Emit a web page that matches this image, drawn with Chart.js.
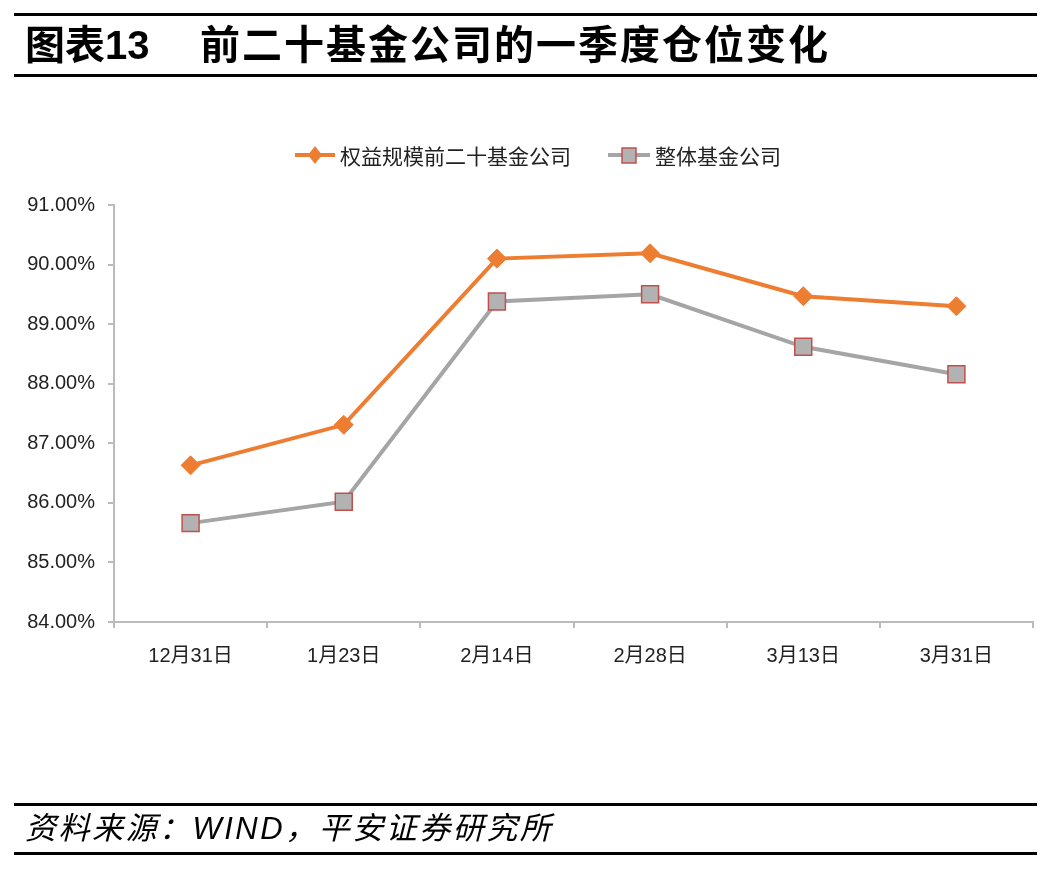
<!DOCTYPE html>
<html>
<head>
<meta charset="utf-8">
<script src="https://cdn.jsdelivr.net/npm/chart.js@4.4.1/dist/chart.umd.min.js"></script>
<style>
  html, body { margin: 0; padding: 0; background: #fff; }
  #wrap { position: relative; width: 1063px; height: 886px; overflow: hidden; background: #fff;
          font-family: "Liberation Sans", Arial, "Noto Sans CJK SC", sans-serif; }
  #c { position: absolute; left: 0; top: 0; }
  .rule { position: absolute; left: 14px; width: 1023px; height: 3px; background: #000; }
  .title { position: absolute; top: 21px; font-size: 40px; font-weight: bold; color: #000; white-space: nowrap; line-height: 48px; }
  .foot { position: absolute; left: 25px; top: 810px; font-size: 31px; font-style: italic; color: #000; letter-spacing: 2.5px; white-space: nowrap; line-height: 38px; }
  .leg { position: absolute; top: 141px; height: 28px; display: flex; align-items: center; font-size: 21px; color: #222; white-space: nowrap; }
  .leg svg { margin-right: 5px; }
</style>
</head>
<body>
<div id="wrap">
  <canvas id="c" width="1063" height="886"></canvas>
  <div class="rule" style="top:13px"></div>
  <div class="title" style="left:25px">图表13</div>
  <div class="title" style="left:200px; letter-spacing:2px">前二十基金公司的一季度仓位变化</div>
  <div class="rule" style="top:74px"></div>
  <div class="leg" id="leg1" style="left:295px">
    <svg width="40" height="24"><line x1="0" y1="12" x2="40" y2="12" stroke="#ED7D31" stroke-width="4"/><polygon points="20,3 27,12 20,21 13,12" fill="#ED7D31"/></svg>
    <span id="lt1"></span>
  </div>
  <div class="leg" id="leg2" style="left:608px">
    <svg width="42" height="24"><line x1="0" y1="12" x2="42" y2="12" stroke="#A5A5A5" stroke-width="4"/><rect x="14" y="5" width="14" height="15" fill="#B2B2B2" stroke="#C0504D" stroke-width="1.5"/></svg>
    <span id="lt2"></span>
  </div>
  <div class="rule" style="top:803px"></div>
  <div class="foot">资料来源：WIND，平安证券研究所</div>
  <div class="rule" style="top:852px"></div>
</div>
<script>
const categories = ["12月31日", "1月23日", "2月14日", "2月28日", "3月13日", "3月31日"];
const seriesNames = ["权益规模前二十基金公司", "整体基金公司"];
const top20Values = [86.63, 87.31, 90.10, 90.19, 89.47, 89.30];
const allFundsValues = [85.66, 86.02, 89.38, 89.50, 88.62, 88.16];
const yTicks = [84, 85, 86, 87, 88, 89, 90, 91];

document.getElementById('lt1').textContent = seriesNames[0];
document.getElementById('lt2').textContent = seriesNames[1];

const fontFamily = '"Liberation Sans", Arial, "Noto Sans CJK SC", sans-serif';
const axisColor = '#BBBBBB';

new Chart(document.getElementById('c'), {
  type: 'line',
  data: {
    labels: categories,
    datasets: [
      {
        label: seriesNames[0],
        data: top20Values,
        borderColor: '#ED7D31',
        backgroundColor: '#ED7D31',
        borderWidth: 4,
        pointStyle: 'rectRot',
        pointRadius: 9.5,
        pointHoverRadius: 9.5,
        pointBackgroundColor: '#ED7D31',
        pointBorderColor: '#ED7D31',
        pointBorderWidth: 1,
        tension: 0
      },
      {
        label: seriesNames[1],
        data: allFundsValues,
        borderColor: '#A5A5A5',
        backgroundColor: '#B2B2B2',
        borderWidth: 4,
        pointStyle: 'rect',
        pointRadius: 12,
        pointHoverRadius: 12,
        pointBackgroundColor: '#B2B2B2',
        pointBorderColor: '#C0504D',
        pointBorderWidth: 1.5,
        tension: 0
      }
    ]
  },
  options: {
    responsive: false,
    animation: false,
    devicePixelRatio: 1,
    layout: { padding: { left: 0, right: 30, top: 205, bottom: 204 } },
    plugins: {
      legend: { display: false },
      tooltip: { enabled: false }
    },
    scales: {
      x: {
        type: 'category',
        offset: true,
        afterFit: (s) => { s.height = 60; },
        grid: { display: true, drawOnChartArea: false, drawTicks: true, tickLength: 6, color: axisColor, lineWidth: 2, offset: true },
        border: { display: true, color: axisColor, width: 2 },
        ticks: { color: '#222', font: { family: fontFamily, size: 20 }, padding: 16, maxRotation: 0, autoSkip: false }
      },
      y: {
        min: 84,
        max: 91,
        afterFit: (s) => { s.width = 114; },
        afterBuildTicks: (s) => { s.ticks = yTicks.map(v => ({ value: v })); },
        grid: { display: true, drawOnChartArea: false, drawTicks: true, tickLength: 6, color: axisColor, lineWidth: 2 },
        border: { display: true, color: axisColor, width: 2 },
        ticks: {
          color: '#222',
          font: { family: fontFamily, size: 20 },
          padding: 13,
          callback: (v) => Number(v).toFixed(2) + '%'
        }
      }
    }
  }
});
</script>
</body>
</html>
